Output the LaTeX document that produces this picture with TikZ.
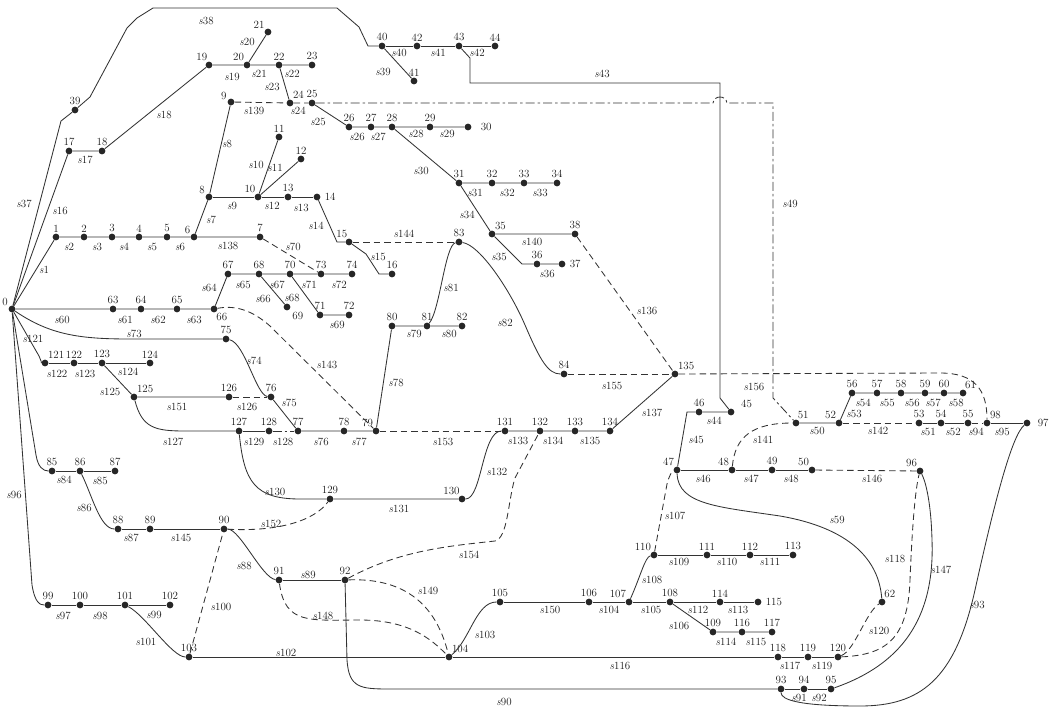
\documentclass[tikz,border=0pt]{standalone}
\newcommand\mkdot[4]{\node[dot,label={[lbl]#4:#1}] (n#1) at (#2,#3) {};}
\newcommand\mkdotr[4]{\node[dot,label={[lbl,label distance=3pt]#4:#1}] (n#1) at (#2,#3) {};}
\newcommand\mklab[3]{\node[lab] (s#1) at (#2,#3) {\textit{s}#1};}
\begin{document}
\begin{tikzpicture}[x=1pt,y=-1pt,
  dot/.style={circle,fill=black!85,draw=none,inner sep=0pt,minimum size=6.8pt},
  lbl/.style={font=\fontsize{11}{13}\selectfont,inner sep=1pt,text=black!90},
  lab/.style={font=\fontsize{11}{13}\selectfont,inner sep=0pt,text=black!90},
  ln/.style={line width=0.85pt,draw=black!80},
  dsh/.style={ln,dash pattern=on 6.5pt off 4pt},
  dd/.style={ln,dash pattern=on 9pt off 3pt on 2.5pt off 3pt}]
\useasboundingbox (0,0) rectangle (1050,707);
% ---------- nodes ----------
\mkdot{0}{12}{309}{150}
\mkdot{1}{56}{237}{90}
\mkdot{2}{84}{237}{90}
\mkdot{3}{112}{237}{90}
\mkdot{4}{139}{237}{90}
\mkdot{5}{167}{237}{90}
\mkdot{6}{194}{237}{135}
\mkdot{7}{260}{237}{90}
\mkdot{8}{209}{197}{150}
\mkdot{9}{231}{102}{160}
\mkdot{10}{258}{197}{115}
\mkdot{11}{279}{137}{90}
\mkdot{12}{301}{159}{90}
\mkdot{13}{288}{197}{90}
\mkdotr{14}{317}{197}{0}
\mkdot{15}{349}{242}{100}
\mkdot{16}{392}{274}{90}
\mkdot{17}{69}{151}{90}
\mkdot{18}{102}{151}{90}
\mkdot{19}{209}{65}{100}
\mkdot{20}{247}{65}{120}
\mkdot{21}{268}{32}{130}
\mkdot{22}{279}{65}{90}
\mkdot{23}{312}{65}{90}
\mkdot{24}{290}{103}{60}
\mkdot{25}{312}{103}{90}
\mkdot{26}{349}{127}{90}
\mkdot{27}{371}{127}{90}
\mkdot{28}{392}{127}{90}
\mkdot{29}{430}{127}{90}
\node[dot,label={[lbl,label distance=8pt]0:30}] (n30) at (468,127) {};
\mkdot{31}{459}{183}{90}
\mkdot{32}{492}{183}{90}
\mkdot{33}{524}{183}{90}
\mkdot{34}{557}{183}{90}
\mkdot{35}{492}{234}{60}
\mkdot{36}{537}{264}{90}
\mkdotr{37}{562}{264}{0}
\mkdot{38}{575}{234}{90}
\mkdot{39}{75}{110}{90}
\mkdot{40}{382}{46}{90}
\mkdot{41}{414}{81}{90}
\mkdot{42}{417}{46}{90}
\mkdot{43}{459}{46}{90}
\mkdot{44}{495}{46}{90}
\node[dot,label={[lbl,label distance=6pt]20:45}] (n45) at (731,412) {};
\mkdot{46}{699}{412}{90}
\mkdot{47}{677}{470}{120}
\mkdot{48}{732}{470}{120}
\mkdot{49}{772}{470}{90}
\mkdot{50}{812}{470}{120}
\mkdot{51}{796}{423}{80}
\mkdot{52}{839}{423}{120}
\mkdot{53}{919}{423}{90}
\mkdot{54}{941}{423}{90}
\mkdot{55}{968}{423}{90}
\mkdot{56}{852}{393}{90}
\mkdot{57}{877}{393}{90}
\mkdot{58}{901}{393}{90}
\mkdot{59}{925}{393}{90}
\mkdot{60}{944}{393}{90}
\mkdot{61}{963}{393}{75}
\mkdot{62}{882}{602}{70}
\mkdot{63}{113}{309}{90}
\mkdot{64}{141}{309}{90}
\mkdot{65}{177}{309}{90}
\mkdot{66}{214}{309}{-70}
\mkdot{67}{228}{274}{90}
\mkdot{68}{259}{274}{90}
\node[dot,label={[lbl,label distance=2pt]-40:69}] (n69) at (287,307) {};
\mkdot{70}{290}{274}{90}
\mkdot{71}{320}{315}{90}
\mkdot{72}{349}{315}{90}
\mkdot{73}{321}{274}{90}
\mkdot{74}{352}{274}{90}
\mkdot{75}{226}{339}{90}
\mkdot{76}{271}{397}{90}
\mkdot{77}{298}{431}{90}
\mkdot{78}{344}{431}{90}
\mkdot{79}{376}{431}{120}
\mkdot{80}{392}{326}{90}
\mkdot{81}{427}{326}{90}
\mkdot{82}{462}{326}{90}
\mkdot{83}{459}{242}{90}
\mkdot{84}{564}{374}{90}
\mkdot{85}{52}{471}{90}
\mkdot{86}{80}{471}{90}
\mkdot{87}{115}{471}{90}
\mkdot{88}{118}{529}{90}
\mkdot{89}{150}{529}{90}
\mkdot{90}{224}{529}{90}
\mkdot{91}{279}{580}{90}
\mkdot{92}{345}{580}{90}
\mkdot{93}{781}{689}{90}
\mkdot{94}{804}{689}{90}
\mkdot{95}{831}{689}{90}
\mkdot{96}{920}{471}{120}
\node[dot,label={[lbl,label distance=6pt]0:97}] (n97) at (1027,423) {};
\mkdot{98}{987}{423}{60}
\mkdot{99}{48}{605}{90}
\mkdot{100}{80}{605}{90}
\mkdot{101}{125}{605}{90}
\mkdot{102}{170}{605}{90}
\mkdot{103}{189}{657}{90}
\mkdot{104}{449}{657}{60}
\mkdot{105}{500}{602}{90}
\mkdot{106}{589}{602}{90}
\mkdot{107}{629}{602}{120}
\mkdot{108}{670}{602}{90}
\mkdot{109}{713}{632}{90}
\mkdot{110}{654}{555}{120}
\mkdot{111}{707}{555}{90}
\mkdot{112}{750}{555}{90}
\mkdot{113}{793}{555}{90}
\mkdot{114}{720}{602}{90}
\mkdotr{115}{758}{602}{0}
\mkdot{116}{742}{632}{90}
\mkdot{117}{772}{632}{90}
\mkdot{118}{778}{657}{90}
\mkdot{119}{808}{657}{90}
\mkdot{120}{838}{657}{90}
\mkdot{121}{45}{363}{60}
\mkdot{122}{74}{363}{90}
\mkdot{123}{102}{363}{90}
\mkdot{124}{150}{363}{90}
\mkdot{125}{134}{397}{60}
\mkdot{126}{229}{397}{90}
\mkdot{127}{239}{431}{90}
\mkdot{128}{269}{431}{90}
\mkdot{129}{330}{499}{90}
\mkdot{130}{462}{499}{110}
\mkdot{131}{505}{431}{90}
\mkdot{132}{540}{431}{90}
\mkdot{133}{575}{431}{90}
\mkdot{134}{610}{431}{90}
\mkdot{135}{675}{374}{60}
% ---------- connectors ----------
\draw[ln] (n0) -- (61,121) -- (n39);
\draw[ln] (n39) -- (90,97) -- (127,28) -- (137,18) -- (153,8) -- (337,8) -- (359,27) -- (368,46) -- (n40);
\draw[ln] (n0) -- (n1) -- (n2) -- (n3) -- (n4) -- (n5) -- (n6) -- (n7);
\draw[ln] (n6) -- (n8) -- (n9);
\draw[ln] (n8) -- (n10) -- (n13) -- (n14);
\draw[ln] (n10) -- (n11);
\draw[ln] (n10) -- (n12);
\draw[ln] (n14) -- (337,242) -- (n15);
\draw[ln] (n15) -- (366,254) -- (379,274) -- (n16);
\draw[ln] (n0) -- (n17) -- (n18) -- (n19) -- (n20) -- (n22) -- (n23);
\draw[ln] (n20) -- (n21);
\draw[ln] (n22) -- (n24);
\draw[dsh] (n9) -- (n24) -- (n25);
\draw[dd] (n25) -- (713,103) .. controls (714,95) and (726,95) .. (727,103) -- (773,103) -- (773,398) -- (n51);
\draw[ln] (n25) -- (n26) -- (n27) -- (n28) -- (n29) -- (n30);
\draw[ln] (n28) -- (n31) -- (n32) -- (n33) -- (n34);
\draw[ln] (n31) -- (n35) -- (n38);
\draw[ln] (n35) -- (522,264) -- (n36) -- (n37);
\draw[ln] (n40) -- (n42) -- (n43) -- (n44);
\draw[ln] (n40) -- (n41);
\draw[ln] (n43) -- (470,58) -- (470,83) -- (720,83) -- (720,398) -- (n45);
\draw[ln] (n45) -- (n46) -- (687,412) -- (n47);
\draw[ln] (n47) -- (n48) -- (n49) -- (n50);
\draw[dsh] (n50) -- (n96);
\draw[ln] (n47) .. controls (678,505) and (720,507) .. (780,516) .. controls (850,528) and (879,560) .. (n62);
\draw[dsh] (n48) .. controls (735,437) and (752,423) .. (n51);
\draw[ln] (n51) -- (n52) -- (n56) -- (n57) -- (n58) -- (n59) -- (n60) -- (n61);
\draw[dsh] (n52) -- (n53);
\draw[ln] (n53) -- (n54) -- (n55);
\draw[dsh] (n55) -- (n98);
\draw[ln] (n98) -- (n97);
\draw[dsh] (n135) -- (940,373) .. controls (975,373) and (987,390) .. (n98);
\draw[ln] (n97) .. controls (1012,435) and (995,500) .. (975,590) .. controls (955,680) and (920,706) .. (860,706) .. controls (800,706) and (781,700) .. (n93);
\draw[ln] (n93) -- (n94) -- (n95);
\draw[ln] (n95) .. controls (900,665) and (935,620) .. (932,540) .. controls (931,500) and (925,480) .. (n96);
\draw[dsh] (n120) .. controls (885,655) and (908,640) .. (910,580) .. controls (912,530) and (915,490) .. (n96);
\draw[dsh] (n120) .. controls (855,650) and (866,612) .. (n62);
\draw[ln] (n103) -- (n104) -- (n118) -- (n119) -- (n120);
\draw[ln] (n104) .. controls (470,640) and (476,602) .. (n105);
\draw[ln] (n105) -- (n106) -- (n107) -- (n108) -- (n114) -- (n115);
\draw[ln] (n108) -- (n109) -- (n116) -- (n117);
\draw[ln] (n107) .. controls (641,575) and (645,557) .. (n110);
\draw[ln] (n110) -- (n111) -- (n112) -- (n113);
\draw[dsh] (n110) -- (667,484) .. controls (669,476) and (672,471) .. (n47);
\draw[ln] (n0) .. controls (50,335) and (80,339) .. (130,339) -- (n75);
\draw[ln] (n75) .. controls (245,343) and (256,395) .. (n76);
\draw[ln] (n76) -- (n77);
\draw[ln] (n0) -- (n63) -- (n64) -- (n65) -- (n66) -- (n67) -- (n68) -- (n70) -- (n73) -- (n74);
\draw[ln] (n68) -- (n69);
\draw[ln] (n70) -- (n71) -- (n72);
\draw[dsh] (n7) -- (n73);
\draw[dsh] (n15) -- (n83);
\draw[dsh] (n66) .. controls (235,305) and (252,310) .. (270,326) -- (n79);
\draw[ln] (n0) -- (39,356) .. controls (41,361) and (42,363) .. (n121);
\draw[ln] (n121) -- (n122) -- (n123) -- (n124);
\draw[ln] (n123) -- (n125) -- (n126);
\draw[dsh] (n126) -- (n76);
\draw[ln] (n125) .. controls (142,428) and (155,431) .. (185,431) -- (n127);
\draw[ln] (n127) -- (n128);
\draw[dd] (n128) -- (n77);
\draw[ln] (n77) -- (n78) -- (n79) -- (n80) -- (n81) -- (n82);
\draw[ln] (n81) .. controls (440,310) and (445,245) .. (n83);
\draw[ln] (n83) .. controls (480,245) and (510,290) .. (525,325) .. controls (540,360) and (548,374) .. (n84);
\draw[dsh] (n84) -- (n135);
\draw[dsh] (n38) -- (n135);
\draw[dsh] (n79) -- (n131);
\draw[ln] (n131) -- (n132) -- (n133) -- (n134) -- (n135);
\draw[ln] (n127) .. controls (244,482) and (255,499) .. (300,499) -- (n129) -- (n130);
\draw[ln] (n130) .. controls (482,499) and (482,431) .. (n131);
\draw[ln] (n0) -- (36,455) .. controls (38,467) and (43,471) .. (n85);
\draw[ln] (n85) -- (n86) -- (n87);
\draw[ln] (n86) .. controls (92,495) and (100,529) .. (n88);
\draw[ln] (n88) -- (n89) -- (n90);
\draw[ln] (n90) .. controls (240,529) and (262,578) .. (n91);
\draw[dsh] (n90) .. controls (280,532) and (315,520) .. (n129);
\draw[dsh] (n103) -- (n90);
\draw[ln] (n91) -- (n92);
\draw[dsh] (n91) .. controls (285,625) and (310,620) .. (360,620) .. controls (410,620) and (432,640) .. (n104);
\draw[dsh] (n92) .. controls (400,578) and (435,600) .. (n104);
\draw[dsh] (n92) .. controls (400,550) and (450,546) .. (495,541) .. controls (508,538) and (508,500) .. (515,478) -- (n132);
\draw[ln] (n92) -- (347,660) .. controls (349,688) and (360,689) .. (390,689) -- (n93);
\draw[ln] (n0) -- (32,585) .. controls (35,603) and (40,605) .. (n99);
\draw[ln] (n99) -- (n100) -- (n101) -- (n102);
\draw[ln] (n101) .. controls (145,615) and (172,657) .. (n103);
% ---------- connector labels ----------
\mklab{1}{44}{270} \mklab{2}{69}{247} \mklab{3}{97}{247} \mklab{4}{124}{247}
\mklab{5}{152}{247} \mklab{6}{180}{247} \mklab{7}{211}{220} \mklab{8}{227}{144}
\mklab{9}{232}{206} \mklab{10}{256}{165} \mklab{11}{275}{168} \mklab{12}{272}{206}
\mklab{13}{301}{208} \mklab{14}{316}{226} \mklab{15}{378}{257} \mklab{16}{60}{211}
\mklab{17}{85}{160} \mklab{18}{164}{115} \mklab{19}{232}{77} \mklab{20}{247}{42}
\mklab{21}{259}{74} \mklab{22}{292}{74} \mklab{23}{272}{87} \mklab{24}{298}{111}
\mklab{25}{318}{122} \mklab{26}{357}{137} \mklab{27}{378}{137} \mklab{28}{416}{134}
\mklab{29}{447}{134} \mklab{30}{421}{171} \mklab{31}{475}{193} \mklab{32}{507}{193}
\mklab{33}{540}{193} \mklab{34}{467}{215} \mklab{35}{499}{257} \mklab{36}{547}{274}
\mklab{37}{24}{204} \mklab{38}{206}{21} \mklab{39}{383}{72} \mklab{40}{399}{53}
\mklab{41}{438}{53} \mklab{42}{477}{53} \mklab{43}{602}{74} \mklab{44}{714}{421}
\mklab{45}{696}{440} \mklab{46}{703}{479} \mklab{47}{751}{479} \mklab{48}{791}{479}
\mklab{49}{790}{204} \mklab{50}{817}{431} \mklab{51}{928}{432} \mklab{52}{953}{432}
\mklab{53}{854}{414} \mklab{54}{863}{403} \mklab{55}{887}{403} \mklab{56}{912}{403}
\mklab{57}{933}{403} \mklab{58}{956}{403} \mklab{59}{837}{520} \mklab{60}{62}{320}
\mklab{61}{125}{320} \mklab{62}{158}{320} \mklab{63}{194}{320} \mklab{64}{209}{288}
\mklab{65}{243}{285} \mklab{66}{263}{299} \mklab{67}{277}{285} \mklab{68}{292}{298}
\mklab{69}{337}{325} \mklab{70}{293}{247} \mklab{71}{309}{285} \mklab{72}{339}{285}
\mklab{73}{134}{334} \mklab{74}{254}{361} \mklab{75}{289}{403} \mklab{76}{321}{442}
\mklab{77}{359}{442} \mklab{78}{396}{383} \mklab{79}{414}{334} \mklab{80}{449}{334}
\mklab{81}{451}{288} \mklab{82}{505}{323} \mklab{84}{64}{480} \mklab{85}{100}{481}
\mklab{86}{84}{508} \mklab{87}{131}{538} \mklab{88}{244}{566} \mklab{89}{308}{575}
\mklab{90}{504}{702} \mklab{91}{799}{698} \mklab{92}{819}{698} \mklab{93}{977}{605}
\mklab{94}{976}{432} \mklab{95}{1002}{432} \mklab{96}{14}{495} \mklab{97}{63}{616}
\mklab{98}{100}{616} \mklab{99}{154}{615} \mklab{100}{221}{607} \mklab{101}{146}{642}
\mklab{102}{286}{653} \mklab{103}{485}{635} \mklab{104}{609}{610} \mklab{105}{651}{610}
\mklab{106}{679}{626} \mklab{107}{675}{516} \mklab{108}{652}{580} \mklab{109}{679}{562}
\mklab{110}{727}{562} \mklab{111}{770}{562} \mklab{112}{698}{610} \mklab{113}{738}{610}
\mklab{114}{726}{642} \mklab{115}{756}{642} \mklab{116}{620}{666} \mklab{117}{790}{666}
\mklab{118}{895}{559} \mklab{119}{822}{666} \mklab{120}{879}{631} \mklab{121}{33}{339}
\mklab{122}{57}{374} \mklab{123}{85}{374} \mklab{124}{128}{372} \mklab{125}{110}{392}
\mklab{126}{247}{407} \mklab{127}{173}{442} \mklab{128}{283}{442} \mklab{129}{254}{442}
\mklab{130}{275}{492} \mklab{131}{399}{509} \mklab{132}{497}{472} \mklab{133}{518}{441}
\mklab{134}{553}{441} \mklab{135}{590}{441} \mklab{136}{647}{311} \mklab{137}{652}{413}
\mklab{138}{228}{246} \mklab{139}{254}{111} \mklab{140}{532}{242} \mklab{141}{763}{440}
\mklab{142}{878}{431} \mklab{143}{327}{365} \mklab{144}{404}{234} \mklab{145}{181}{538}
\mklab{146}{872}{479} \mklab{147}{941}{570} \mklab{148}{323}{616} \mklab{149}{428}{591}
\mklab{150}{550}{610} \mklab{151}{177}{407} \mklab{152}{271}{524} \mklab{153}{443}{442}
\mklab{154}{469}{555} \mklab{155}{612}{386} \mklab{156}{754}{387}
\end{tikzpicture}
\end{document}
